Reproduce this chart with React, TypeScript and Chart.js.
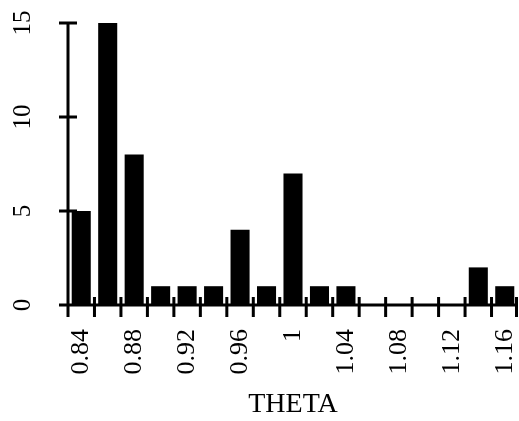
import React, { useEffect, useRef } from "react";
import { Chart, registerables } from "chart.js";

Chart.register(...registerables);

const BINS = ["0.84", "0.86", "0.88", "0.90", "0.92", "0.94", "0.96", "0.98", "1.00", "1.02", "1.04", "1.06", "1.08", "1.10", "1.12", "1.14", "1.16"];
const COUNTS = [5, 15, 8, 1, 1, 1, 4, 1, 7, 1, 1, 0, 0, 0, 0, 2, 1];
const X_TICK_LABELS = ["0.84", "", "0.88", "", "0.92", "", "0.96", "", "1", "", "1.04", "", "1.08", "", "1.12", "", "1.16"];
const Y_TICKS = [0, 5, 10, 15];
const Y_MAX = 15;
const X_TITLE = "THETA";

const FONT = "'Liberation Serif', 'Times New Roman', serif";

const axesPlugin = {
  id: "customAxes",
  afterDraw(chart: any) {
    const { ctx, chartArea, scales } = chart;
    const xs = scales.x;
    const ys = scales.y;
    const left = chartArea.left;
    const y0 = ys.getPixelForValue(0);
    const yTop = ys.getPixelForValue(Y_MAX);
    ctx.save();
    ctx.strokeStyle = "#000";
    ctx.fillStyle = "#000";
    ctx.lineWidth = 3;
    ctx.lineCap = "butt";
    ctx.beginPath();
    ctx.moveTo(left, y0 + 1.5);
    ctx.lineTo(left, yTop);
    ctx.moveTo(left - 8, y0);
    ctx.lineTo(chartArea.right, y0);
    // y ticks
    Y_TICKS.forEach((v) => {
      const py = ys.getPixelForValue(v);
      ctx.moveTo(left - 9, py);
      ctx.lineTo(left + 9, py);
    });
    // x ticks at bin edges
    const n = BINS.length;
    const half = (xs.getPixelForValue(1) - xs.getPixelForValue(0)) / 2;
    for (let i = 0; i <= n; i++) {
      const px = i < n ? xs.getPixelForValue(i) - half : xs.getPixelForValue(n - 1) + half - 1.5;
      ctx.moveTo(px, y0 - 8);
      ctx.lineTo(px, y0 + 12);
    }
    ctx.stroke();
    // y labels rotated
    ctx.font = `25px ${FONT}`;
    ctx.textAlign = "center";
    ctx.textBaseline = "middle";
    Y_TICKS.forEach((v) => {
      const py = ys.getPixelForValue(v);
      ctx.save();
      ctx.translate(23, py);
      ctx.rotate(-Math.PI / 2);
      ctx.fillText(String(v), 0, 0);
      ctx.restore();
    });
    ctx.restore();
  },
};

export default function App() {
  const ref = useRef<HTMLCanvasElement>(null);
  useEffect(() => {
    if (!ref.current) return;
    const chart = new Chart(ref.current, {
      type: "bar",
      data: {
        labels: BINS,
        datasets: [
          {
            data: COUNTS,
            backgroundColor: "#000",
            borderWidth: 0,
            barPercentage: 0.72,
            categoryPercentage: 1,
          },
        ],
      },
      options: {
        animation: false,
        responsive: false,
        layout: { padding: { left: 68, top: 23, right: 1, bottom: 0 } },
        plugins: { legend: { display: false }, tooltip: { enabled: false } },
        scales: {
          x: {
            grid: { display: false },
            border: { display: false },
            ticks: {
              autoSkip: false,
              maxRotation: 90,
              minRotation: 90,
              padding: 16,
              color: "#000",
              font: { family: FONT, size: 26 },
              callback: (_v: any, i: number) => X_TICK_LABELS[i],
            },
            title: {
              display: true,
              text: X_TITLE,
              color: "#000",
              font: { family: FONT, size: 28 },
              padding: { top: 0, bottom: 0 },
            },
            afterFit: (s: any) => {
              s.height = 116;
              s.paddingLeft = 0;
              s.paddingRight = 0;
            },
          },
          y: {
            display: false,
            min: 0,
            max: Y_MAX,
          },
        },
      },
      plugins: [axesPlugin],
    });
    return () => chart.destroy();
  }, []);
  return (
    <div style={{ position: "absolute", left: 0, top: 0, width: 519, height: 421, background: "#fff" }}>
      <canvas ref={ref} width={519} height={421} style={{ display: "block" }} />
    </div>
  );
}
